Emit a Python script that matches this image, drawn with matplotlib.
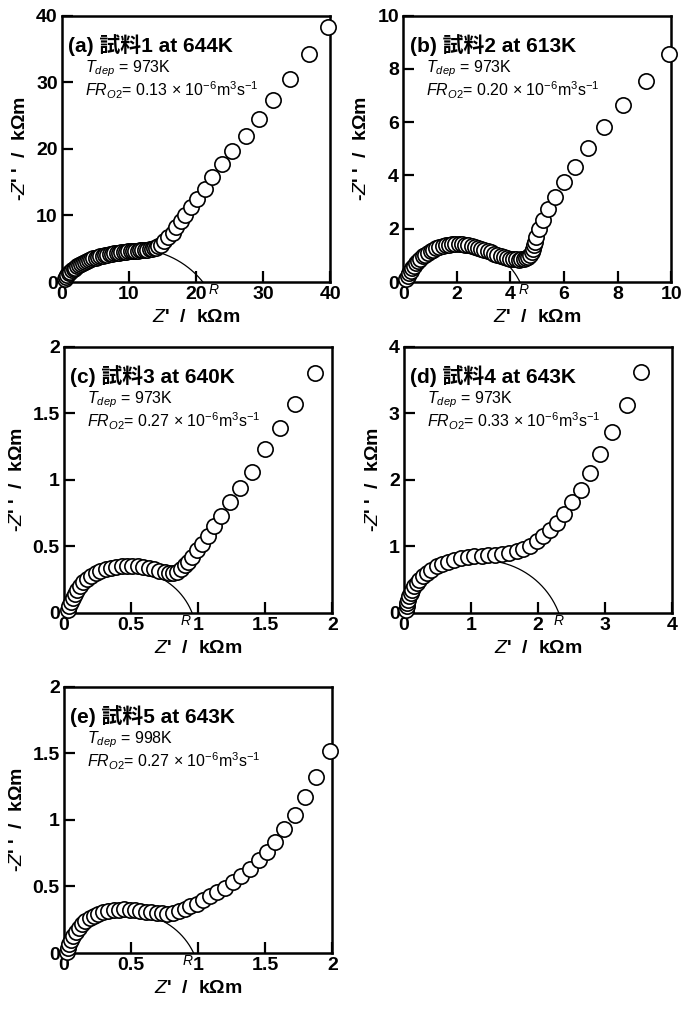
import numpy as np
import matplotlib
matplotlib.use("Agg")
import matplotlib.pyplot as plt
from matplotlib.ticker import FuncFormatter

plt.rcParams['font.family'] = ['Liberation Sans', 'Noto Sans CJK JP', 'DejaVu Sans']
plt.rcParams['mathtext.fontset'] = 'custom'
plt.rcParams['mathtext.rm'] = 'Liberation Sans'
plt.rcParams['mathtext.it'] = 'Liberation Sans:italic'
plt.rcParams['mathtext.bf'] = 'Liberation Sans:bold'

# impedance spectra, Z' and -Z'' in kOhm m
z1_re = [0.4, 0.6, 0.8, 1.0, 1.25, 1.5, 1.75, 2.0, 2.3, 2.6,
         2.9, 3.2, 3.5, 3.8, 4.1, 4.4, 4.7, 5.0, 5.35, 5.7,
         6.05, 6.4, 6.75, 7.1, 7.45, 7.8, 8.15, 8.5, 8.85, 9.2,
         9.55, 9.9, 10.25, 10.6, 10.95, 11.3, 11.65, 12.0, 12.35, 12.7,
         13.05, 13.4, 13.7, 14.0, 14.35, 14.7, 15.2, 15.8, 16.5, 17.0,
         17.7, 18.4, 19.3, 20.2, 21.3, 22.4, 23.9, 25.3, 27.4, 29.3,
         31.5, 34.05, 36.8, 39.7]
z1_im = [0.5, 0.8, 1.05, 1.3, 1.55, 1.75, 1.95, 2.15, 2.35, 2.55,
         2.75, 2.9, 3.05, 3.2, 3.35, 3.45, 3.55, 3.65, 3.75, 3.85,
         3.95, 4.05, 4.12, 4.2, 4.27, 4.33, 4.38, 4.43, 4.48, 4.52,
         4.56, 4.6, 4.63, 4.66, 4.69, 4.72, 4.75, 4.78, 4.82, 4.86,
         4.9, 4.96, 5.05, 5.15, 5.35, 5.6, 6.2, 6.7, 7.4, 8.2,
         9.1, 10.1, 11.3, 12.5, 14.0, 15.8, 17.7, 19.7, 21.9, 24.5,
         27.3, 30.5, 34.2, 38.3]

z2_re = [0.12, 0.17, 0.22, 0.28, 0.34, 0.41, 0.48, 0.56, 0.64, 0.73,
         0.82, 0.92, 1.02, 1.13, 1.24, 1.35, 1.47, 1.59, 1.71, 1.83,
         1.95, 2.07, 2.19, 2.31, 2.43, 2.55, 2.67, 2.79, 2.91, 3.03,
         3.15, 3.27, 3.39, 3.51, 3.63, 3.75, 3.87, 3.99, 4.1, 4.2,
         4.3, 4.4, 4.5, 4.59, 4.67, 4.74, 4.8, 4.85, 4.89, 4.93,
         4.96, 5.06, 5.21, 5.41, 5.65, 5.99, 6.42, 6.89, 7.47, 8.21,
         9.04, 9.9]
z2_im = [0.12, 0.22, 0.32, 0.42, 0.52, 0.62, 0.71, 0.8, 0.88, 0.96,
         1.03, 1.1, 1.16, 1.22, 1.27, 1.31, 1.35, 1.38, 1.4, 1.41,
         1.42, 1.42, 1.41, 1.4, 1.38, 1.35, 1.32, 1.28, 1.24, 1.2,
         1.15, 1.11, 1.06, 1.02, 0.98, 0.94, 0.91, 0.88, 0.86, 0.85,
         0.84, 0.85, 0.87, 0.9, 0.95, 1.02, 1.12, 1.24, 1.38, 1.52,
         1.68, 1.99, 2.34, 2.74, 3.2, 3.74, 4.33, 5.04, 5.82, 6.64,
         7.53, 8.55]

z3_re = [0.03, 0.04, 0.05, 0.065, 0.08, 0.1, 0.12, 0.145, 0.17, 0.2,
         0.235, 0.27, 0.31, 0.35, 0.39, 0.43, 0.47, 0.51, 0.55, 0.59,
         0.63, 0.67, 0.71, 0.75, 0.78, 0.81, 0.84, 0.87, 0.90, 0.925,
         0.955, 0.99, 1.03, 1.07, 1.12, 1.17, 1.24, 1.31, 1.40, 1.50,
         1.61, 1.725, 1.87]
z3_im = [0.02, 0.05, 0.08, 0.11, 0.14, 0.17, 0.2, 0.23, 0.255, 0.28,
         0.3, 0.315, 0.33, 0.34, 0.348, 0.352, 0.354, 0.354, 0.35, 0.345,
         0.337, 0.328, 0.318, 0.309, 0.303, 0.302, 0.31, 0.33, 0.36, 0.385,
         0.42, 0.47, 0.52, 0.58, 0.65, 0.73, 0.83, 0.94, 1.06, 1.23,
         1.39, 1.57, 1.80]

z4_re = [0.025, 0.04, 0.05, 0.065, 0.08, 0.1, 0.125, 0.155, 0.19, 0.23,
         0.28, 0.34, 0.41, 0.49, 0.57, 0.66, 0.75, 0.85, 0.95, 1.05,
         1.16, 1.26, 1.36, 1.47, 1.57, 1.68, 1.78, 1.88, 1.98, 2.08,
         2.18, 2.29, 2.39, 2.50, 2.64, 2.77, 2.93, 3.11, 3.33, 3.53]
z4_im = [0.05, 0.1, 0.15, 0.2, 0.25, 0.3, 0.35, 0.4, 0.45, 0.5,
         0.55, 0.6, 0.65, 0.7, 0.74, 0.77, 0.8, 0.82, 0.84, 0.85,
         0.86, 0.87, 0.875, 0.885, 0.90, 0.93, 0.96, 1.01, 1.08, 1.15,
         1.24, 1.35, 1.49, 1.66, 1.85, 2.10, 2.38, 2.72, 3.13, 3.62]

z5_re = [0.02, 0.03, 0.04, 0.055, 0.07, 0.09, 0.11, 0.135, 0.16, 0.19,
         0.22, 0.255, 0.29, 0.33, 0.37, 0.41, 0.45, 0.49, 0.53, 0.57,
         0.61, 0.65, 0.69, 0.73, 0.77, 0.81, 0.855, 0.90, 0.94, 0.99,
         1.035, 1.09, 1.14, 1.20, 1.26, 1.32, 1.385, 1.45, 1.51, 1.57,
         1.64, 1.72, 1.80, 1.875, 1.98]
z5_im = [0.01, 0.04, 0.07, 0.1, 0.13, 0.16, 0.19, 0.215, 0.24, 0.26,
         0.278, 0.293, 0.305, 0.315, 0.322, 0.326, 0.327, 0.326, 0.322, 0.317,
         0.311, 0.305, 0.3, 0.297, 0.296, 0.302, 0.318, 0.333, 0.35, 0.37,
         0.396, 0.426, 0.456, 0.49, 0.53, 0.58, 0.634, 0.70, 0.76, 0.835,
         0.93, 1.035, 1.17, 1.32, 1.52]

# fitted arc: left intercept, right intercept (R), peak height
arc_left = [0.3, 0.1, 0.02, 0.03, 0.02]
arc_right = [21.0, 4.35, 0.955, 2.31, 0.966]
arc_peak = [5.0, 1.35, 0.32, 0.79, 0.30]
# where the "R" marker sits next to the tick labels
r_x = [21.8, 4.3, 0.945, 2.31, 0.955]
r_align = ['left', 'left', 'right', 'center', 'right']

titles = ["(a) 試料1 at 644K", "(b) 試料2 at 613K", "(c) 試料3 at 640K",
          "(d) 試料4 at 643K", "(e) 試料5 at 643K"]
t_dep = ["973K", "973K", "973K", "973K", "998K"]
fr_o2 = ["0.13", "0.20", "0.27", "0.33", "0.27"]

limits = [40, 10, 2, 4, 2]
steps = [10, 2, 0.5, 1, 0.5]

data = [(z1_re, z1_im), (z2_re, z2_im), (z3_re, z3_im), (z4_re, z4_im), (z5_re, z5_im)]

fig = plt.figure(figsize=(6.81, 10.09), dpi=100)
w, h = 0.394, 0.264
positions = [(0.091, 0.7205), (0.592, 0.7205), (0.094, 0.3925),
             (0.593, 0.3925), (0.094, 0.0555)]

for i in range(5):
    ax = fig.add_axes([positions[i][0], positions[i][1], w, h])
    lim = limits[i]
    x, y = data[i]

    # depressed semicircle
    a, b, hp = arc_left[i], arc_right[i], arc_peak[i]
    half = (b - a) / 2
    c = (half ** 2 - hp ** 2) / (2 * hp)
    r = hp + c
    xs = np.linspace(a, b, 300)
    ys = np.sqrt(np.clip(r ** 2 - (xs - (a + half)) ** 2, 0, None)) - c
    ax.plot(xs, ys, color='black', lw=0.9, zorder=2)

    ax.plot(x, y, 'o', ms=11, mfc='white', mec='black', mew=1.2,
            zorder=3, clip_on=False)

    ax.annotate("R", (r_x[i], 0), xytext=(0, -1), textcoords='offset points',
                style='italic', fontsize=10, ha=r_align[i], va='top',
                annotation_clip=False)

    ax.set_xlim(0, lim)
    ax.set_ylim(0, lim)
    ticks = np.arange(0, lim + steps[i] / 2, steps[i])
    ax.set_xticks(ticks)
    ax.set_yticks(ticks)
    fmt = FuncFormatter(lambda v, p: "%g" % v)
    ax.xaxis.set_major_formatter(fmt)
    ax.yaxis.set_major_formatter(fmt)
    ax.tick_params(direction='in', length=8, width=1.6, labelsize=14, pad=3,
                   top=False, right=False)
    for lab in ax.get_xticklabels() + ax.get_yticklabels():
        lab.set_fontweight('bold')
    for s in ax.spines.values():
        s.set_linewidth(1.8)

    ax.set_xlabel(r"$Z$'  /  kΩm", fontsize=14, fontweight='bold', labelpad=4)
    ax.set_ylabel(r"-$Z$' '  /  kΩm", fontsize=14, fontweight='bold', labelpad=5)

    ax.text(0.024, 0.89, titles[i], transform=ax.transAxes, fontsize=15,
            fontweight='bold', va='center', ha='left')
    ax.text(0.085, 0.80, r"$T_{dep}$ = " + t_dep[i], transform=ax.transAxes,
            fontsize=11.5, va='center', ha='left')
    ax.text(0.085, 0.718, r"$FR_{O2}$= " + fr_o2[i] + r" × 10$^{-6}$m$^{3}$s$^{-1}$",
            transform=ax.transAxes, fontsize=11.5, va='center', ha='left')

fig.savefig("out.png", dpi=100)
